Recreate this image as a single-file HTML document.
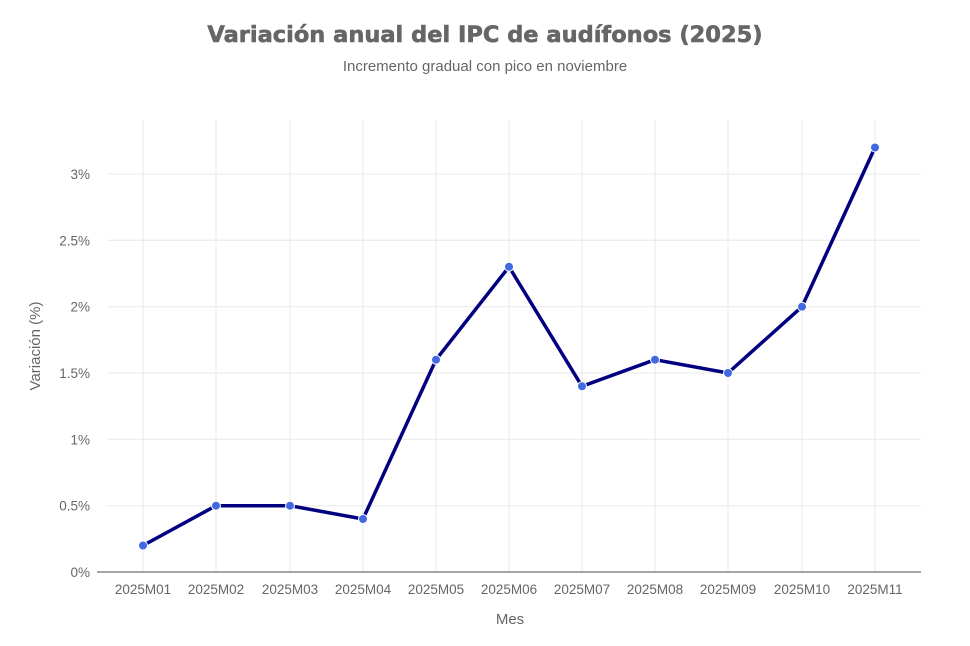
<!DOCTYPE html>
<html><head><meta charset="utf-8"><style>
html,body{margin:0;padding:0;background:#fff;}
svg{display:block;font-family:"Liberation Sans","DejaVu Sans",sans-serif;}
</style></head><body>
<svg width="970" height="646" viewBox="0 0 970 646" xmlns="http://www.w3.org/2000/svg">
<text x="485" y="42" text-anchor="middle" font-size="22.5" font-weight="bold" fill="#666" stroke="#666" stroke-width="0.6" font-family="DejaVu Sans, sans-serif">Variación anual del IPC de audífonos (2025)</text>
<text x="485" y="71" text-anchor="middle" font-size="15" fill="#666">Incremento gradual con pico en noviembre</text>
<g stroke="#e8e8e8" stroke-width="1">
<line x1="107" x2="921" y1="505.7" y2="505.7"/><line x1="107" x2="921" y1="439.3" y2="439.3"/>
<line x1="107" x2="921" y1="373" y2="373"/><line x1="107" x2="921" y1="306.7" y2="306.7"/>
<line x1="107" x2="921" y1="240.3" y2="240.3"/><line x1="107" x2="921" y1="174" y2="174"/>
<line x1="143" x2="143" y1="120" y2="572"/><line x1="216" x2="216" y1="120" y2="572"/>
<line x1="290" x2="290" y1="120" y2="572"/><line x1="363" x2="363" y1="120" y2="572"/>
<line x1="436" x2="436" y1="120" y2="572"/><line x1="509" x2="509" y1="120" y2="572"/>
<line x1="582" x2="582" y1="120" y2="572"/><line x1="655" x2="655" y1="120" y2="572"/>
<line x1="728" x2="728" y1="120" y2="572"/><line x1="802" x2="802" y1="120" y2="572"/>
<line x1="875" x2="875" y1="120" y2="572"/>
</g>
<line x1="97" x2="921" y1="572" y2="572" stroke="#888" stroke-width="1.5"/>
<g font-size="13.5" fill="#666" text-anchor="end">
<text x="90" y="577">0%</text><text x="90" y="510.7">0.5%</text><text x="90" y="444.3">1%</text>
<text x="90" y="378">1.5%</text><text x="90" y="311.7">2%</text><text x="90" y="245.3">2.5%</text><text x="90" y="179">3%</text>
</g>
<g font-size="13.5" fill="#666" text-anchor="middle">
<text x="143" y="594">2025M01</text><text x="216" y="594">2025M02</text><text x="290" y="594">2025M03</text>
<text x="363" y="594">2025M04</text><text x="436" y="594">2025M05</text><text x="509" y="594">2025M06</text>
<text x="582" y="594">2025M07</text><text x="655" y="594">2025M08</text><text x="728" y="594">2025M09</text>
<text x="802" y="594">2025M10</text><text x="875" y="594">2025M11</text>
</g>
<text x="510" y="624" text-anchor="middle" font-size="15" fill="#666">Mes</text>
<text transform="translate(40,346) rotate(-90)" text-anchor="middle" font-size="15" fill="#666">Variación (%)</text>
<polyline fill="none" stroke="#000080" stroke-width="3.5" stroke-linejoin="round" points="143,545.5 216,505.7 290,505.7 363,519 436,359.7 509,266.8 582,386.3 655,359.7 728,373 802,306.7 875,147.5"/>
<g fill="#4169e1" stroke="#fff" stroke-width="1">
<circle cx="143" cy="545.5" r="4.5"/><circle cx="216" cy="505.7" r="4.5"/><circle cx="290" cy="505.7" r="4.5"/>
<circle cx="363" cy="519" r="4.5"/><circle cx="436" cy="359.7" r="4.5"/><circle cx="509" cy="266.8" r="4.5"/>
<circle cx="582" cy="386.3" r="4.5"/><circle cx="655" cy="359.7" r="4.5"/><circle cx="728" cy="373" r="4.5"/>
<circle cx="802" cy="306.7" r="4.5"/><circle cx="875" cy="147.5" r="4.5"/>
</g>
</svg>
</body></html>
